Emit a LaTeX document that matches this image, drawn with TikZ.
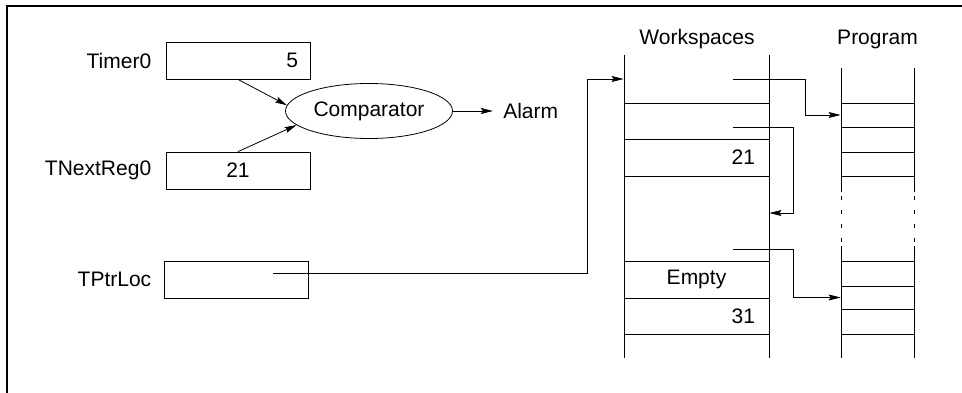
\documentclass[tikz,border=0pt]{standalone}
\usepackage{fontspec}
\setmainfont{Liberation Sans}
\usetikzlibrary{arrows.meta, shapes.geometric, positioning}

\begin{document}
\begin{tikzpicture}[x=1pt,y=-1pt,line width=0.8pt,
  font=\fontsize{21}{25}\selectfont,
  >={Stealth[length=12pt,width=6pt,inset=2pt]},
  regbox/.style={draw,minimum width=144pt,minimum height=37pt,inner ysep=0pt,inner xsep=12pt,text width=120pt},
  namelbl/.style={inner sep=2pt},
  wsrow/.style={inner ysep=0pt,inner xsep=14pt,text width=117pt},
  prgrow/.style={minimum width=73pt,inner sep=0pt}]
  \useasboundingbox(0,0)rectangle(962,393);
  % frame
  \draw[line width=1.2pt](7,393)--(7,6)--(962,6);
  % registers
  \node[regbox,align=right](timer) at(238,60.5){5};
  \node[regbox,align=center](tnext) at(238,170.5){21};
  \node[regbox](tptr) at(236,279.5){};
  \node[namelbl,left=12pt of timer](timerlbl){Timer0};
  \node[namelbl,left=12pt of tnext](tnextlbl){TNextReg0};
  \node[namelbl,left=10pt of tptr](tptrlbl){TPtrLoc};
  % comparator
  \node[draw,ellipse,minimum width=167pt,minimum height=55pt,inner sep=0pt](comp) at(369,111){Comparator};
  \node[namelbl,right=48pt of comp](alarm){Alarm};
  \draw[->](timer.south)--(comp.176);
  \draw[->](tnext.north)--(comp.191);
  \draw[->,shorten >=8pt](comp)--(alarm);
  % workspaces column
  \node(wslbl) at(697,39){Workspaces};
  \draw(624,55)--(624,358);
  \draw(769,55)--(769,358);
  \foreach \y in {103,139,176,261,298,334}
    \draw(624,\y)--(769,\y);
  \node[wsrow](w1) at(696.5,79){};
  \node[wsrow,align=right](w3) at(696.5,157.5){21};
  \node[wsrow](w4) at(696.5,213){};
  \node[wsrow,align=center](w5) at(696.5,279.5){Empty};
  \node[wsrow,align=right](w6) at(696.5,316){31};
  % program column
  \node(prglbl) at(877.5,39){Program};
  \foreach \x in {841,914}{
    \draw(\x,68)--(\x,192);
    \draw[dash pattern=on 4pt off 10pt](\x,196)--(\x,244);
    \draw(\x,246)--(\x,358);
  }
  \foreach \y in {103,127,152,176,261,286,309,334}
    \draw(841,\y)--(914,\y);
  \node[prgrow](g2) at(877.5,115){};
  \node[prgrow](g6) at(877.5,297.5){};
  % pointers
  \coordinate(tpstart) at(273,273);
  \coordinate(p1) at(733,79);
  \coordinate(p2) at(733,127);
  \coordinate(p3) at(733,249);
  \draw[->](tpstart)--(587,273)|-(w1.west);
  \draw[->](p1)--(805,79)|-(g2.west);
  \draw[->](p2)--(793,127)|-(w4.east);
  \draw[->](p3)--(793,249)|-(g6.west);
\end{tikzpicture}
\end{document}
